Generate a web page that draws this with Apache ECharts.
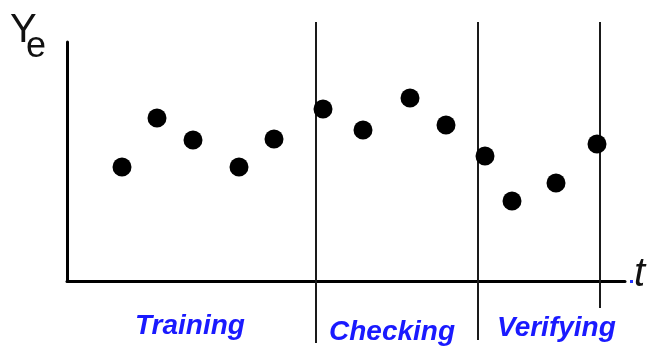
<!DOCTYPE html>
<html>
<head>
<meta charset="utf-8">
<script src="https://cdn.jsdelivr.net/npm/echarts@6/dist/echarts.min.js"></script>
<style>html,body{margin:0;padding:0;background:#fff}#c{width:650px;height:347px}</style>
</head>
<body>
<div id="c"></div>
<script>
// data
const tValues = [55, 90, 126, 172, 207, 256, 296, 343, 379, 418, 445, 489, 530];
const yeValues = [114, 163, 141, 114, 142, 172, 151, 183, 156, 125, 80, 98, 137];
const boundaries = [249, 411, 533];
const sectionNames = ['Training', 'Checking', 'Verifying'];
const yLabel = 'Y';
const ySub = 'e';
const xLabel = 't';

const chart = echarts.init(document.getElementById('c'), null, {renderer: 'canvas'});
const points = tValues.map((t, i) => [t, yeValues[i]]);
chart.setOption({
  animation: false,
  backgroundColor: '#fff',
  grid: {left: 67, right: 25, top: 42, bottom: 66},
  xAxis: {type: 'value', min: 0, max: 558, axisLine: {show: true, lineStyle: {color: '#000', width: 3}},
    axisTick: {show: false}, axisLabel: {show: false}, splitLine: {show: false}},
  yAxis: {type: 'value', min: 0, max: 239, axisLine: {show: true, lineStyle: {color: '#000', width: 3}},
    axisTick: {show: false}, axisLabel: {show: false}, splitLine: {show: false}},
  series: [{type: 'scatter', data: points, symbol: 'circle', symbolSize: 19,
    itemStyle: {color: '#000', opacity: 1}, z: 5}]
});

const lineTops = [22, 22, 22];
const lineBottoms = [343, 340, 308];
const g = [];
boundaries.forEach((b, i) => {
  const x = Math.round(chart.convertToPixel({xAxisIndex: 0}, b));
  g.push({type: 'line', shape: {x1: x, y1: lineTops[i], x2: x, y2: lineBottoms[i]},
    style: {stroke: '#1a1a1a', lineWidth: 2}, z: 1});
});
const labelPos = [[135, 326], [329, 332], [497, 328]];
sectionNames.forEach((s, i) => {
  g.push({type: 'text', x: labelPos[i][0], y: labelPos[i][1],
    style: {text: s, font: 'italic bold 28px "Liberation Sans", Arial, sans-serif', fill: '#1a1aff',
      verticalAlign: 'middle', align: 'left'}, z: 10});
});
g.push({type: 'text', x: 10, y: 31, style: {text: yLabel, font: '40px "Liberation Sans", Arial, sans-serif', fill: '#111', verticalAlign: 'middle'}, z: 10});
g.push({type: 'text', x: 26, y: 47, style: {text: ySub, font: '36px "Liberation Sans", Arial, sans-serif', fill: '#111', verticalAlign: 'middle'}, z: 10});
g.push({type: 'text', x: 634, y: 275, style: {text: xLabel, font: 'italic 40px "Liberation Sans", Arial, sans-serif', fill: '#111', verticalAlign: 'middle'}, z: 10});
g.push({type: 'rect', shape: {x: 630, y: 280, width: 3, height: 3}, style: {fill: '#2233ff'}, z: 10});
chart.setOption({graphic: g});
</script>
</body>
</html>
